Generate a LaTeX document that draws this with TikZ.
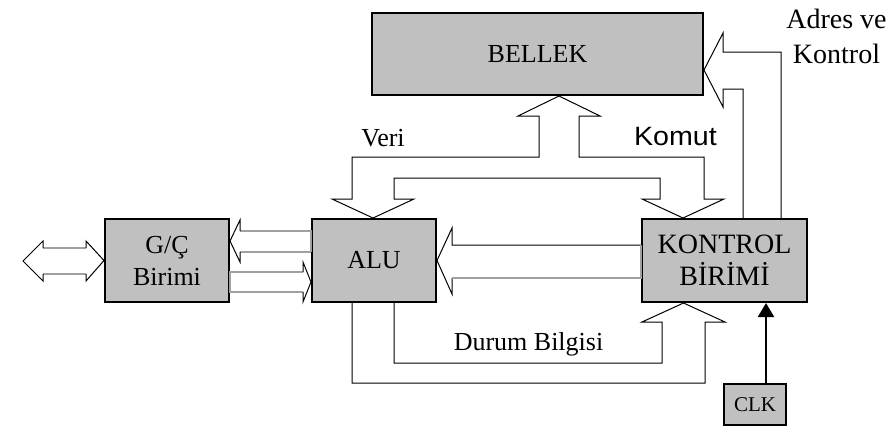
\documentclass[tikz,border=0pt]{standalone}
\usepackage{fontspec}
\setmainfont{Liberation Serif}
\newfontfamily\xSans[FakeStretch=1.08]{Liberation Sans}
\usepackage{tikz}
\usetikzlibrary{calc,positioning,arrows.meta}
\definecolor{xBox}{RGB}{192,192,192}
\definecolor{xShaft}{RGB}{160,160,160}

\begin{document}
\begin{tikzpicture}[x=1pt,y=-1pt,
    unit/.style={draw=black,line width=2pt,fill=xBox,inner sep=0pt,align=center,
      font=\fontsize{26}{32}\selectfont},
    bus/.style={draw=black,line width=1pt,line join=miter},
    shaft/.style={draw=xShaft,line width=1.4pt},
    tag/.style={inner sep=0pt,anchor=base,font=\fontsize{26}{32}\selectfont}]
    \useasboundingbox (0,0) rectangle (896,437);

    % units
    \node[unit,minimum width=331pt,minimum height=82pt] (bellek) at (537.5,54) {BELLEK};
    \node[unit,minimum width=124pt,minimum height=83pt] (gc) at (167,260.5) {G/Ç\\Birimi};
    \node[unit,minimum width=124pt,minimum height=83pt] (alu) at (374,260.5) {ALU};
    \node[unit,minimum width=165pt,minimum height=83pt,font=\fontsize{28}{32}\selectfont]
      (kontrol) at (724.5,260.5) {KONTROL\\BİRİMİ};
    \node[unit,minimum width=62pt,minimum height=41pt,font=\fontsize{21}{24}\selectfont]
      (clk) at (755,404.5) {CLK};

    % Veri / Komut bus
    \draw[bus] (bellek.south -| 559,0) -- (600,116) -- (579,116) -- (579,157) -- (704,157)
      -- (704,199) -- (724,199) -- (kontrol.north -| 683,0) -- (642,199) -- (660,199)
      -- (660,178) -- (394,178) -- (394,199) -- (414,199) -- (alu.north -| 373,0)
      -- (332,199) -- (352,199) -- (352,157) -- (539,157) -- (539,116) -- (518,116) -- cycle;

    % adres ve kontrol
    \draw[bus] (kontrol.north -| 743,0) -- (743,89) -- (723,89) -- (723,107)
      -- (bellek.east |- 0,70) -- (723,33) -- (723,52) -- (781,52) -- (kontrol.north -| 781,0);

    % durum bilgisi
    \draw[bus] (alu.south -| 352,0) -- (352,383) -- (705,383) -- (705,322) -- (725,322)
      -- (kontrol.south -| 683.5,0) -- (642,322) -- (662,322) -- (662,363) -- (394,363)
      -- (alu.south -| 394,0);

    % KONTROL -> ALU
    \draw[bus] (kontrol.west |- 0,245) -- (452,245) -- (452,228) -- (alu.east)
      -- (452,294) -- (452,278);
    \draw[shaft] (452,278) -- (kontrol.west |- 0,278) -- (kontrol.west |- 0,245);

    % ALU <-> G/C
    \draw[shaft] (alu.west |- 0,252) -- (240,252) (240,231) -- (alu.west |- 0,231)
      -- (alu.west |- 0,252);
    \draw[bus] (240,231) -- (240,220) -- (gc.east |- 0,241) -- (240,262) -- (240,252);
    \draw[shaft] (303,272) -- (gc.east |- 0,272) -- (gc.east |- 0,292) -- (303,292);
    \draw[bus] (303,272) -- (303,262) -- (alu.west |- 0,282) -- (303,302) -- (303,292);

    % outside <-> G/C
    \draw[shaft] (43,248) -- (86,248) (43,274) -- (86,274);
    \draw[bus] (86,248) -- (86,241) -- (gc.west) -- (86,281) -- (86,274);
    \draw[bus] (43,248) -- (43,241) -- (23,261) -- (43,281) -- (43,274);

    % clock
    \draw[line width=2pt,-{Triangle[length=14pt,width=16pt]}]
      ($(clk.north)+(11,0)$) coordinate (clkin) -- (clkin |- kontrol.south);

    % labels
    \node[tag] (veri) at (383,146) {Veri};
    \node[tag,font=\xSans\fontsize{26.5}{32}\selectfont] (komut) at (675.5,145) {Komut};
    \node[tag] (durum) at (528.5,350) {Durum Bilgisi};
    \node[inner sep=0pt,anchor=north,align=center,font=\fontsize{28}{35}\selectfont]
      (adres) at (836.5,8.5) {Adres ve\\Kontrol};
\end{tikzpicture}
\end{document}
